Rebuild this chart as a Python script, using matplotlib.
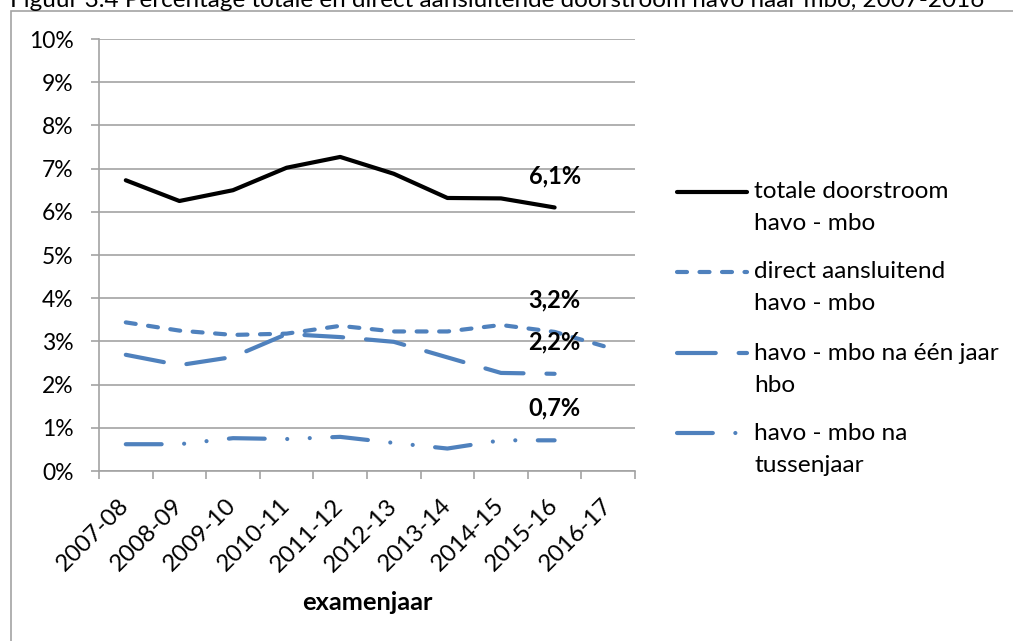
import numpy as np
import matplotlib
matplotlib.use('Agg')
import matplotlib.pyplot as plt
from matplotlib.lines import Line2D
from matplotlib.patches import Rectangle

plt.rcParams['font.family'] = ['Lato', 'DejaVu Sans']

# canvas size in pixels, helpers to go from pixel to figure fraction
W, H = 1013, 641
def fx(px):
    return px / W
def fy(py):
    return 1 - py / H

title = 'Figuur 3.4 Percentage totale en direct aansluitende doorstroom havo naar mbo, 2007-2016'

years = ['2007-08', '2008-09', '2009-10', '2010-11', '2011-12',
         '2012-13', '2013-14', '2014-15', '2015-16', '2016-17']

# percentages
totaal = [6.73, 6.25, 6.50, 7.02, 7.27, 6.88, 6.32, 6.31, 6.10, np.nan]
direct = [3.44, 3.25, 3.15, 3.18, 3.36, 3.23, 3.23, 3.38, 3.22, 2.86]
na_hbo = [2.69, 2.45, 2.64, 3.17, 3.10, 2.99, 2.63, 2.27, 2.25, np.nan]
tussenjaar = [0.62, 0.62, 0.76, 0.74, 0.79, 0.65, 0.52, 0.71, 0.71, np.nan]

labels = ['totale doorstroom\nhavo - mbo',
          'direct aansluitend\nhavo - mbo',
          'havo - mbo na één jaar\nhbo',
          'havo - mbo na\ntussenjaar']
end_labels = ['6,1%', '3,2%', '2,2%', '0,7%']

blue = '#4F81BD'
grey = '#A3A3A3'
colors = ['black', blue, blue, blue]
dashes = ['-',
          (0, (2.4, 3.0)),
          (0, (9.3, 5.5)),
          (0, (8.6, 5.4, 0.01, 5.4, 0.01, 5.4))]

fig = plt.figure(figsize=(W / 100, H / 100), dpi=100)

# chart border (runs off the right and bottom of the image)
fig.add_artist(Rectangle((fx(10.5), fy(740)), 1.2, fy(10.5) - fy(740),
                         transform=fig.transFigure, fill=False,
                         edgecolor=grey, lw=1.2))

fig.text(fx(10), fy(7), title, ha='left', va='baseline', fontsize=17.5)

ax = fig.add_axes([fx(99), fy(471), (635 - 99) / W, 432 / H])
x = np.arange(len(years))
series = [totaal, direct, na_hbo, tussenjaar]

for vals, c, ls in zip(series, colors, dashes):
    ax.plot(x, vals, color=c, linestyle=ls, lw=3,
            solid_capstyle='round', dash_capstyle='round',
            solid_joinstyle='round', dash_joinstyle='round', zorder=3)

for vals, lab in zip(series, end_labels):
    ax.annotate(lab, (8, vals[8]), xytext=(0, 23), textcoords='offset points',
                ha='center', va='center', fontsize=17, fontweight='bold')

ax.set_xlim(-0.5, 9.5)
ax.set_ylim(0, 10)
ax.set_yticks(range(11))
ax.set_yticklabels([f'{v}%' for v in range(11)])
ax.yaxis.grid(True, color=grey, lw=1.2)
ax.set_axisbelow(True)

ax.set_xticks(x)
ax.set_xticklabels(years, rotation=45, ha='right', va='center',
                   rotation_mode='anchor')
ax.set_xticks(np.arange(-0.5, 10), minor=True)
ax.tick_params(axis='x', which='major', length=0, pad=22.6, labelsize=17.3)
ax.tick_params(axis='x', which='minor', length=6, width=1.2, color=grey)
ax.tick_params(axis='y', length=6, width=1.2, color=grey, pad=12.4,
               labelsize=16.5)

for side in ['top', 'right']:
    ax.spines[side].set_visible(False)
for side in ['left', 'bottom']:
    ax.spines[side].set_color(grey)
    ax.spines[side].set_linewidth(1.2)

ax.set_xlabel('examenjaar', fontsize=18.3, fontweight='bold')
ax.xaxis.set_label_coords(0.5, (471 - 603) / 432)
ax.xaxis.label.set_va('center')

# legend drawn by hand so the key line sits on the first text line
leg_y = [192, 272, 353, 433]
for c, ls, lab, y in zip(colors, dashes, labels, leg_y):
    fig.add_artist(Line2D([fx(677), fx(747)], [fy(y), fy(y)],
                          transform=fig.transFigure, color=c, linestyle=ls,
                          lw=3, solid_capstyle='round', dash_capstyle='round'))
    for i, line in enumerate(lab.split('\n')):
        fig.text(fx(754), fy(y + 32 * i), line, ha='left', va='center',
                 fontsize=17.6)

fig.savefig('out.png', dpi=100)
